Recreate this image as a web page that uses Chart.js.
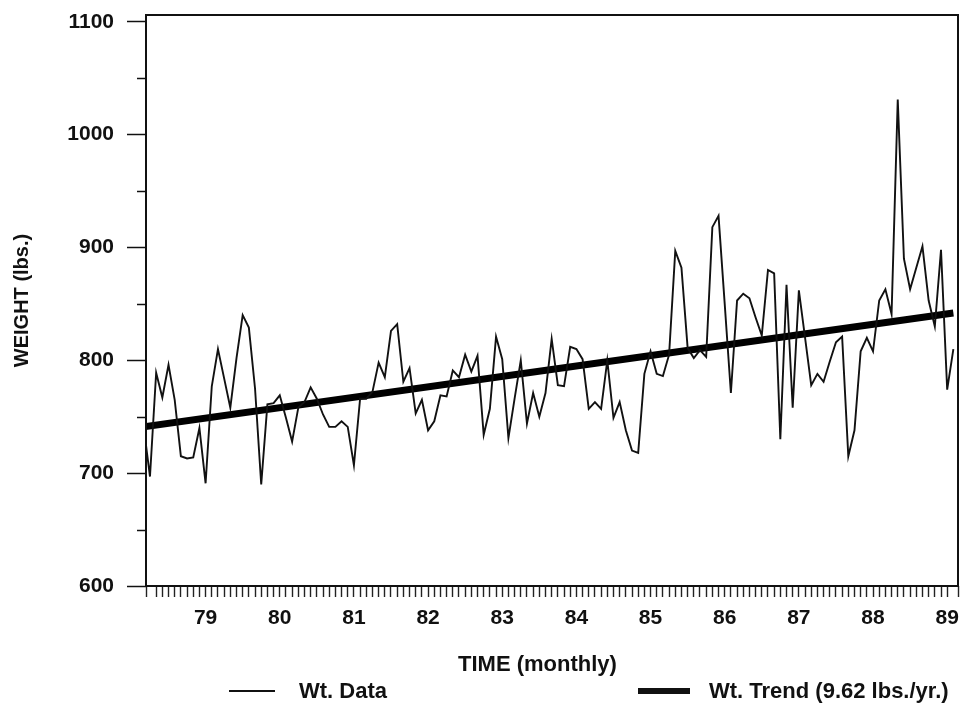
<!DOCTYPE html>
<html>
<head>
<meta charset="utf-8">
<script src="https://cdn.jsdelivr.net/npm/chart.js@4.4.1/dist/chart.umd.min.js"></script>
<style>
  body { margin: 0; background: #fff; }
  #wrap { position: relative; width: 975px; height: 712px; font-family: "Liberation Sans", Arial, sans-serif; font-weight: bold; color: #111; }
  .txt { position: absolute; font-size: 22px; line-height: 24px; white-space: nowrap; }
  .key { position: absolute; background: #111; }
</style>
</head>
<body>
<div id="wrap">
  <canvas id="weightChart" width="975" height="712"></canvas>
  <div id="xTitle" class="txt" style="left:0;width:1075px;text-align:center;top:652px;">TIME (monthly)</div>
</div>
<script>
// monthly weights, first value is March 1978 (month 2 counted from Jan 1978)
var startMonth = 2;
var wt1978 = [740, 697, 789, 767, 796, 765, 715, 713, 714, 740];
var wt1979 = [691, 777, 810, 784, 758, 802, 840, 829, 775, 690, 761, 762];
var wt1980 = [769, 749, 728, 758, 763, 776, 766, 752, 741, 741, 746, 741];
var wt1981 = [707, 766, 766, 772, 798, 785, 826, 832, 781, 793, 753, 765];
var wt1982 = [738, 746, 769, 768, 791, 785, 805, 790, 804, 734, 757, 821];
var wt1983 = [801, 731, 766, 800, 744, 771, 750, 771, 819, 778, 777, 812];
var wt1984 = [810, 801, 757, 763, 757, 800, 749, 763, 738, 720, 718, 788];
var wt1985 = [808, 788, 786, 805, 897, 882, 811, 802, 809, 803, 918, 928];
var wt1986 = [850, 771, 853, 859, 855, 838, 822, 880, 877, 730, 867, 758];
var wt1987 = [862, 820, 778, 788, 781, 799, 816, 821, 715, 738, 808, 820];
var wt1988 = [808, 853, 863, 841, 1031, 890, 863, 882, 901, 853, 830, 898];
var wt1989 = [774, 810];

// trend line end points (first and last month)
var trendMonths = [2, 133];
var trendWeights = [741, 842];

var yearLabels = ["79", "80", "81", "82", "83", "84", "85", "86", "87", "88", "89"];
var weightTicks = [600, 700, 800, 900, 1000, 1100];

var weights = [].concat(wt1978, wt1979, wt1980, wt1981, wt1982, wt1983,
  wt1984, wt1985, wt1986, wt1987, wt1988, wt1989);
var dataPoints = weights.map(function (w, i) { return { x: startMonth + i, y: w }; });
var trendPoints = trendMonths.map(function (m, i) { return { x: m, y: trendWeights[i] }; });

// box around the plot + short minor ticks halfway between the weight ticks
var frame = {
  id: "frame",
  afterDraw: function (chart) {
    var ctx = chart.ctx, a = chart.chartArea, y = chart.scales.y;
    ctx.save();
    ctx.strokeStyle = "#111";
    ctx.lineWidth = 2;
    ctx.strokeRect(a.left, a.top, a.right - a.left, a.bottom - a.top);
    ctx.lineWidth = 1.5;
    for (var i = 0; i < weightTicks.length - 1; i++) {
      var py = Math.round(y.getPixelForValue((weightTicks[i] + weightTicks[i + 1]) / 2)) + 0.5;
      ctx.beginPath();
      ctx.moveTo(a.left - 9, py);
      ctx.lineTo(a.left, py);
      ctx.stroke();
    }
    ctx.restore();
  }
};

var font = "'Liberation Sans', Arial, sans-serif";

var chart = new Chart(document.getElementById("weightChart"), {
  type: "line",
  data: {
    datasets: [
      {
        label: "Wt. Data",
        data: dataPoints,
        borderColor: "#111",
        borderWidth: 1.9,
        pointRadius: 0,
        tension: 0
      },
      {
        label: "Wt. Trend (9.62 lbs./yr.)",
        data: trendPoints,
        borderColor: "#000",
        borderWidth: 7,
        pointRadius: 0,
        tension: 0
      }
    ]
  },
  options: {
    responsive: false,
    animation: false,
    layout: { padding: { top: 15, right: 17, left: 0, bottom: 0 } },
    plugins: { legend: { display: false }, tooltip: { enabled: false } },
    scales: {
      x: {
        type: "linear",
        min: 2.356,
        max: 133.75,
        border: { display: false },
        grid: { drawOnChartArea: false, drawTicks: true, tickLength: 11, tickWidth: 1.4, tickColor: "#222" },
        ticks: {
          stepSize: 1,
          autoSkip: false,
          maxRotation: 0,
          minRotation: 0,
          padding: 9,
          color: "#111",
          font: { family: font, size: 21, weight: "bold" },
          callback: function (v) {
            var m = Math.round(v);
            if (Math.abs(v - m) > 1e-6 || m % 12 !== 0 || m < 12) return "";
            return yearLabels[m / 12 - 1] || "";
          }
        },
        afterFit: function (s) { s.height = 126; }
      },
      y: {
        min: 600,
        max: 1106,
        border: { display: false },
        grid: { drawOnChartArea: false, drawTicks: true, tickLength: 19, tickWidth: 1.5, tickColor: "#111" },
        ticks: {
          padding: 13,
          color: "#111",
          font: { family: font, size: 21, weight: "bold" },
          callback: function (v) { return String(v); }
        },
        afterBuildTicks: function (s) {
          s.ticks = weightTicks.map(function (v) { return { value: v }; });
        },
        title: {
          display: true,
          text: "WEIGHT (lbs.)",
          color: "#111",
          padding: { top: 10, bottom: 0 },
          font: { family: font, size: 20, weight: "bold" }
        },
        afterFit: function (s) {
          s.width = 146;
          s.paddingTop = 0;
          s.paddingBottom = 0;
        }
      }
    }
  },
  plugins: [frame]
});

// legend below the axis title, built from the datasets
var keyLeft = [229, 638], keyWidth = [46, 52], textLeft = [299, 709];
var wrap = document.getElementById("wrap");
chart.data.datasets.forEach(function (ds, i) {
  var key = document.createElement("div");
  key.className = "key";
  var h = Math.max(2, Math.round(ds.borderWidth * 0.85));
  key.style.cssText = "left:" + keyLeft[i] + "px;width:" + keyWidth[i] + "px;height:" + h + "px;top:" + (691 - h / 2) + "px;";
  wrap.appendChild(key);
  var t = document.createElement("div");
  t.className = "txt";
  t.textContent = ds.label;
  t.style.left = textLeft[i] + "px";
  t.style.top = "679px";
  wrap.appendChild(t);
});
</script>
</body>
</html>
